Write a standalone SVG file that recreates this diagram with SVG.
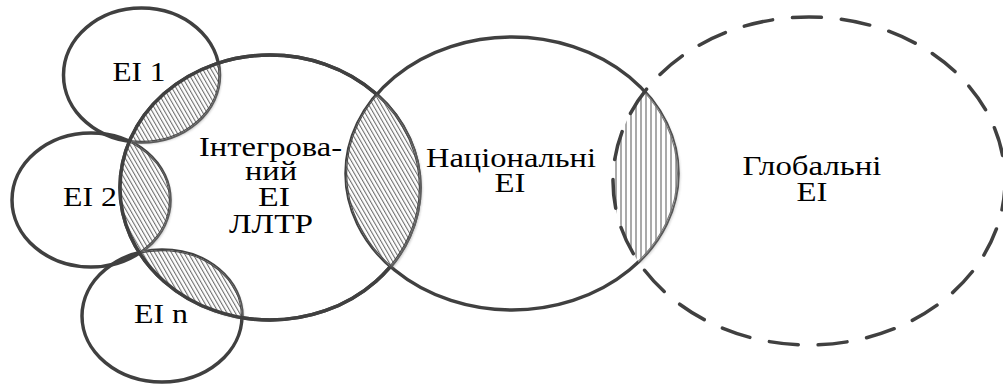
<svg xmlns="http://www.w3.org/2000/svg" width="1003" height="385" viewBox="0 0 1003 385">
  <style>
    .ring { fill: none; stroke: #404040; stroke-width: 3.5; }
    .dash { fill: none; stroke: #404040; stroke-width: 3.5; stroke-dasharray: 29 20; stroke-linecap: round; }
    .thin { fill: none; stroke: #4a4a4a; stroke-width: 2.4; }
    .lbl { font-family: "Liberation Serif", "Times New Roman", serif; font-size: 27.5px; fill: #000; text-anchor: middle; }
  </style>
  <defs>
    <pattern id="hd" width="3.6" height="10" patternUnits="userSpaceOnUse" patternTransform="rotate(-30)">
      <rect width="3.6" height="10" fill="#fff"/>
      <line x1="0.6" y1="-1" x2="0.6" y2="11" stroke="#4a4a4a" stroke-width="0.9"/>
    </pattern>
    <pattern id="hv" width="5" height="10" patternUnits="userSpaceOnUse">
      <rect width="5" height="10" fill="#fff"/>
      <line x1="1" y1="-1" x2="1" y2="11" stroke="#555" stroke-width="1"/>
    </pattern>
    <filter id="sh" x="-20%" y="-20%" width="140%" height="140%">
      <feGaussianBlur stdDeviation="1.2"/>
    </filter>
    <clipPath id="c-e1"><ellipse cx="141.5" cy="75" rx="78" ry="67"/></clipPath>
    <clipPath id="c-e2"><ellipse cx="91" cy="200" rx="79" ry="67"/></clipPath>
    <clipPath id="c-en"><ellipse cx="162" cy="316" rx="80" ry="66"/></clipPath>
    <clipPath id="c-int"><ellipse cx="270" cy="187.5" rx="150" ry="132.5"/></clipPath>
    <clipPath id="c-nat"><ellipse cx="512" cy="173.5" rx="166" ry="136.5"/></clipPath>
    <clipPath id="c-glob"><ellipse cx="809" cy="181" rx="196" ry="164"/></clipPath>
  </defs>

  <rect width="1003" height="385" fill="#fff"/>

  <!-- base rings -->
  <g id="ei1"><ellipse class="ring" cx="141.5" cy="75" rx="78" ry="67"/></g>
  <g id="ei2"><ellipse class="ring" cx="91" cy="200" rx="79" ry="67"/></g>
  <g id="ein"><ellipse class="ring" cx="162" cy="316" rx="80" ry="66"/></g>
  <g id="integrated"><ellipse class="ring" cx="270" cy="187.5" rx="150" ry="132.5"/></g>
  <g id="national"><ellipse class="ring" cx="512" cy="173.5" rx="166" ry="136.5"/></g>

  <!-- small lenses -->
  <g id="lens-ei1">
    <g transform="translate(2,2)" filter="url(#sh)" opacity="0.45"><g clip-path="url(#c-int)"><g clip-path="url(#c-e1)"><rect x="50" y="0" width="200" height="160" fill="#888"/></g></g></g>
    <g clip-path="url(#c-int)"><g clip-path="url(#c-e1)">
      <rect x="50" y="0" width="200" height="160" fill="url(#hd)"/>
      <ellipse class="thin" cx="141.5" cy="75" rx="78" ry="67"/>
    </g></g>
  </g>
  <g id="lens-ei2">
    <g transform="translate(2,2)" filter="url(#sh)" opacity="0.45"><g clip-path="url(#c-int)"><g clip-path="url(#c-e2)"><rect x="100" y="120" width="90" height="150" fill="#888"/></g></g></g>
    <g clip-path="url(#c-int)"><g clip-path="url(#c-e2)">
      <rect x="100" y="120" width="90" height="150" fill="url(#hd)"/>
      <ellipse class="thin" cx="91" cy="200" rx="79" ry="67"/>
    </g></g>
  </g>
  <g id="lens-ein">
    <g transform="translate(2,2)" filter="url(#sh)" opacity="0.45"><g clip-path="url(#c-int)"><g clip-path="url(#c-en)"><rect x="120" y="230" width="140" height="100" fill="#888"/></g></g></g>
    <g clip-path="url(#c-int)"><g clip-path="url(#c-en)">
      <rect x="120" y="230" width="140" height="100" fill="url(#hd)"/>
      <ellipse class="thin" cx="162" cy="316" rx="80" ry="66"/>
    </g></g>
  </g>

  <!-- integrated ring on top of small lenses -->
  <g id="integrated-top"><ellipse class="ring" cx="270" cy="187.5" rx="150" ry="132.5"/></g>

  <!-- integrated / national lens -->
  <g id="lens-int-nat">
    <g transform="translate(2.5,2)" filter="url(#sh)" opacity="0.45"><g clip-path="url(#c-int)"><g clip-path="url(#c-nat)"><rect x="330" y="80" width="110" height="200" fill="#888"/></g></g></g>
    <g clip-path="url(#c-int)"><g clip-path="url(#c-nat)">
      <rect x="330" y="80" width="110" height="200" fill="url(#hd)"/>
      <ellipse class="thin" cx="270" cy="187.5" rx="150" ry="132.5"/>
      <ellipse class="thin" cx="512" cy="173.5" rx="166" ry="136.5"/>
    </g></g>
  </g>

  <!-- national / global lens -->
  <g id="lens-nat-glob">
    <g transform="translate(2.5,2)" filter="url(#sh)" opacity="0.35"><g clip-path="url(#c-nat)"><g clip-path="url(#c-glob)"><rect x="600" y="80" width="100" height="190" fill="#888"/></g></g></g>
    <g clip-path="url(#c-nat)"><g clip-path="url(#c-glob)">
      <rect x="600" y="80" width="100" height="190" fill="url(#hv)"/>
      <ellipse class="thin" cx="512" cy="173.5" rx="166" ry="136.5" style="stroke:#777"/>
    </g></g>
  </g>

  <g id="global"><ellipse class="dash" cx="809" cy="181" rx="196" ry="164"/></g>

  <g id="connectors"/>

  <!-- labels -->
  <g id="labels">
    <text class="lbl" x="139" y="81" textLength="53" lengthAdjust="spacingAndGlyphs">ЕІ 1</text>
    <text class="lbl" x="90" y="206" textLength="54" lengthAdjust="spacingAndGlyphs">ЕІ 2</text>
    <text class="lbl" x="161" y="322.5" textLength="54" lengthAdjust="spacingAndGlyphs">ЕІ n</text>
    <text class="lbl" x="270.5" y="156" textLength="143" lengthAdjust="spacingAndGlyphs">Інтегрова-</text>
    <text class="lbl" x="271" y="180" textLength="52" lengthAdjust="spacingAndGlyphs">ний</text>
    <text class="lbl" x="274" y="206" textLength="32" lengthAdjust="spacingAndGlyphs">ЕІ</text>
    <text class="lbl" x="271" y="232.5" textLength="84" lengthAdjust="spacingAndGlyphs">ЛЛТР</text>
    <text class="lbl" x="511" y="167" textLength="170" lengthAdjust="spacingAndGlyphs">Національні</text>
    <text class="lbl" x="510" y="192" textLength="31" lengthAdjust="spacingAndGlyphs">ЕІ</text>
    <text class="lbl" x="812" y="175" textLength="139" lengthAdjust="spacingAndGlyphs">Глобальні</text>
    <text class="lbl" x="812" y="200.5" textLength="31" lengthAdjust="spacingAndGlyphs">ЕІ</text>
  </g>
</svg>
